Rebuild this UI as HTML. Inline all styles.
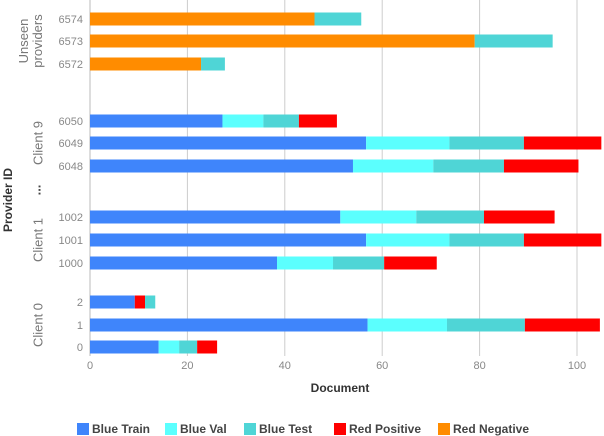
<!DOCTYPE html>
<html><head><meta charset="utf-8"><style>
html,body{margin:0;padding:0;background:#fff;}
svg{display:block;font-family:"Liberation Sans",sans-serif;}
</style></head><body>
<svg id="chart" width="604" height="436" xmlns="http://www.w3.org/2000/svg">
<g id="grid"></g>
<g id="bars"></g>
<g id="yax"></g>
<g id="xax"></g>
<text x="8" y="200" transform="rotate(-90 8 200)" text-anchor="middle" dominant-baseline="central" font-size="12" font-weight="bold" fill="#333">Provider ID</text>
<text x="36" y="190" transform="rotate(-90 36 190)" text-anchor="middle" dominant-baseline="central" font-size="13" font-weight="bold" fill="#444">...</text>
<text x="340" y="392" text-anchor="middle" font-size="12" font-weight="bold" fill="#333">Document</text>
<g id="legend"></g>
</svg>
<script>
const rowLabels = ["6574","6573","6572","6050","6049","6048","1002","1001","1000","2","1","0"];
const blueTrain = [0,0,0,27.2,56.7,54,51.4,56.7,38.4,9.2,57,14.1];
const blueVal   = [0,0,0,8.4,17.1,16.5,15.6,17.1,11.5,0,16.3,4.2];
const blueTest  = [9.6,16,4.9,7.3,15.3,14.5,13.9,15.3,10.5,2.1,16,3.7];
const redPos    = [0,0,0,7.8,15.9,15.3,14.5,15.9,10.8,2.1,15.4,4.1];
const redNeg    = [46.1,79,22.8,0,0,0,0,0,0,0,0,0];
const rowY = [19,41,64,121,143,166,217,240,263,302,325,347];
const xTicks = [0,20,40,60,80,100];
const groups = [["Unseen","providers",41],["Client 9",null,143],["Client 1",null,240],["Client 0",null,325]];
const seriesNames = ["Blue Train","Blue Val","Blue Test","Red Positive","Red Negative"];
const colors = ["#3f85fb","#5bfffe","#4fd5d6","#ff0000","#ff8c00"];
const NS="http://www.w3.org/2000/svg";
const X=v=>90+v*4.87;
function mk(tag,attrs,parent){const e=document.createElementNS(NS,tag);for(const k in attrs)e.setAttribute(k,attrs[k]);parent.appendChild(e);return e;}
const grid=document.getElementById('grid'),bars=document.getElementById('bars'),yax=document.getElementById('yax'),xax=document.getElementById('xax'),legend=document.getElementById('legend');
xTicks.forEach(t=>{
  const l=mk('line',{x1:X(t),x2:X(t),y1:0,y2:356,stroke:t===0?'#bbb':'#ccc','stroke-width':1},grid);
  
  
  const tx=mk('text',{x:X(t),y:369,'text-anchor':'middle','font-size':11,fill:'#888'},xax);
  tx.textContent=t;
  
  
});
const series=[blueTrain,blueVal,blueTest,redPos,redNeg];
rowLabels.forEach((r,i)=>{
  let order=[4,0,1,2,3];
  if(r==="2") order=[0,3,2,1,4];
  let acc=0;
  order.forEach(s=>{
    const v=series[s][i]; if(!v) return;
    const rc=mk('rect',{x:X(acc),y:rowY[i]-6.5,width:v*4.87,height:13,fill:colors[s]},bars);
    
    
    acc+=v;
  });
  const t=mk('text',{x:83,y:rowY[i]+4,'text-anchor':'end','font-size':11,fill:'#888'},yax);
  t.textContent=r;
  
  
});
groups.forEach(g=>{
  const gx = g[1]?30:38;
  const t=mk('text',{x:gx,y:g[2],transform:`rotate(-90 ${gx} ${g[2]})`,'text-anchor':'middle','font-size':13,fill:'#777','dominant-baseline':'central'},yax);
  if(g[1]){
    const a=mk('tspan',{x:gx,dy:'-0.55em'},t);a.textContent=g[0];
    const b=mk('tspan',{x:gx,dy:'1.1em'},t);b.textContent=g[1];
  } else t.textContent=g[0];
  
  
});
const legX=[77,165,244,334,438];
seriesNames.forEach((n,i)=>{
  const r=mk('rect',{x:legX[i],y:423,width:12,height:12,fill:colors[i]},legend);
  
  
  const t=mk('text',{x:legX[i]+15,y:433,'font-size':12,'font-weight':'bold',fill:'#444'},legend);
  t.textContent=n;
  
  
});
</script>
</body></html>
